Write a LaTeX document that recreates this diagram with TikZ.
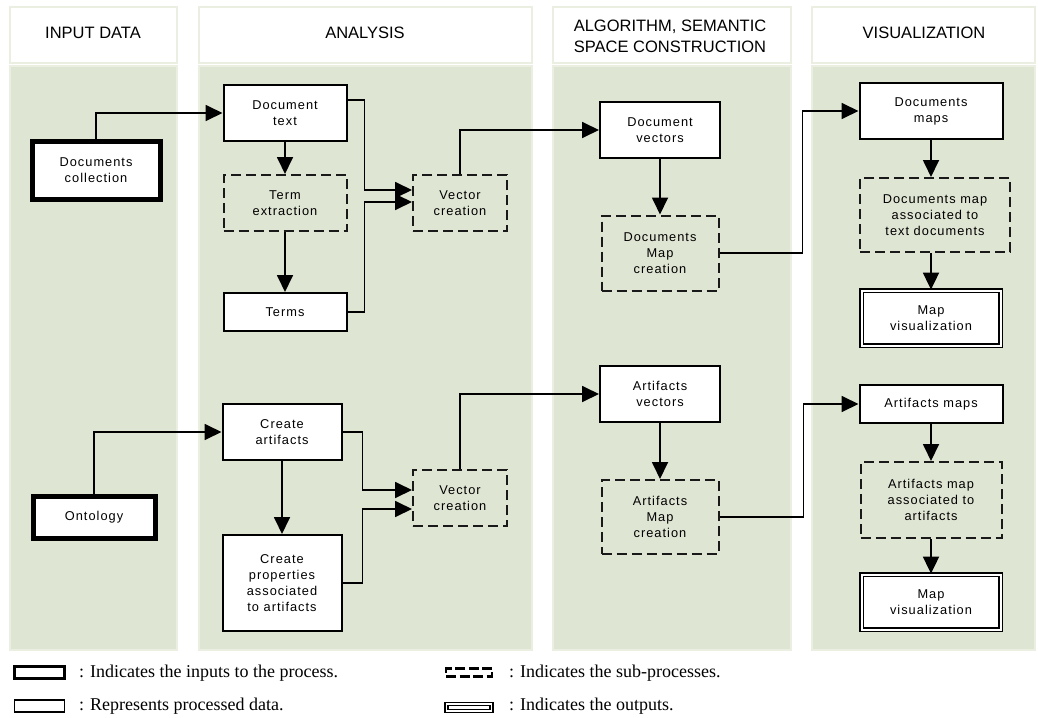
\documentclass[tikz,border=0pt]{standalone}
\usepackage{fontspec}
\setmainfont{Liberation Serif}
\newfontfamily\boxfont[LetterSpace=8]{Liberation Sans}
\newfontfamily\headfont{Liberation Sans}
\usetikzlibrary{arrows.meta}
\definecolor{lanegreen}{RGB}{223,229,211}
\definecolor{laneedge}{RGB}{234,239,226}

\begin{document}
\begin{tikzpicture}
    [x=1pt,y=-1pt,
     lane/.style={fill=lanegreen,draw=laneedge,line width=1.5pt},
     headbox/.style={fill=white,draw=laneedge,line width=1.5pt},
     title/.style={font=\headfont\fontsize{16.5}{21}\selectfont,align=center},
     box/.style={fill=white,align=center,inner sep=2pt,minimum width=123pt,minimum height=56pt,
       font=\boxfont\fontsize{12.8}{16}\selectfont},
     data/.style={box,draw,line width=2pt},
     sub/.style={box,draw=black!90,line width=2pt,dash pattern=on 10pt off 5pt,fill=none},
     input/.style={box,draw,line width=5pt,minimum width=128pt,minimum height=58pt},
     output/.style={box,draw,double,double distance=2pt,line width=1.8pt,minimum width=139pt,minimum height=55pt},
     flow/.style={line width=1.8pt,-{Triangle[length=17pt,width=16pt]}},
     keybox/.style={draw,fill=white,inner sep=0pt,minimum width=50pt,minimum height=12pt},
     keytext/.style={anchor=west,inner sep=0pt,font=\fontsize{18}{20}\selectfont}]
    \useasboundingbox (0,0) rectangle (1038,717);
    % lanes
    \foreach \l/\r in {10/177,199/532,553/791,812/1035}
      {\draw[headbox] (\l,7) rectangle (\r,63);
       \draw[lane] (\l,66) rectangle (\r,650);}
    \node[title] (inputhead) at (93,33) {INPUT DATA};
    \node[title] (analysishead) at (365,33) {ANALYSIS};
    \node[title] (algohead) at (670,36) {ALGORITHM, SEMANTIC\\SPACE CONSTRUCTION};
    \node[title] (vishead) at (924,33) {VISUALIZATION};
    % documents
    \node[input] (doccoll) at (96,170) {Documents\\collection};
    \node[data] (doctext) at (285,113) {Document\\text};
    \node[sub] (termext) at (285,203) {Term\\extraction};
    \node[data,minimum height=38pt] (terms) at (285,312) {Terms};
    \node[sub,minimum width=94pt] (vecdoc) at (460,203) {Vector\\creation};
    \node[data,minimum width=120pt] (docvec) at (660,130) {Document\\vectors};
    \node[sub,minimum width=117pt,minimum height=75pt] (docmapc) at (660,253) {Documents\\Map\\creation};
    \node[data,minimum width=143pt] (docmaps) at (931,111) {Documents\\maps};
    \node[sub,minimum width=150pt,minimum height=74pt] (docassoc) at (935,215) {Documents map\\associated to\\text documents};
    \node[output] (docvis) at (931,318) {Map\\visualization};
    % artifacts
    \node[input,minimum width=122pt,minimum height=42pt] (onto) at (94,517) {Ontology};
    \node[data,minimum width=119pt] (createart) at (282,432) {Create\\artifacts};
    \node[data,minimum width=119pt,minimum height=96pt] (createprop) at (282,583) {Create\\properties\\associated\\to artifacts};
    \node[sub,minimum width=94pt] (vecart) at (460,498) {Vector\\creation};
    \node[data,minimum width=120pt] (artvec) at (660,394) {Artifacts\\vectors};
    \node[sub,minimum width=117pt,minimum height=74pt] (artmapc) at (660,517) {Artifacts\\Map\\creation};
    \node[data,minimum width=143pt,minimum height=38pt] (artmaps) at (931,404) {Artifacts maps};
    \node[sub,minimum width=141pt,minimum height=76pt] (artassoc) at (931,500) {Artifacts map\\associated to\\artifacts};
    \node[output] (artvis) at (931,602) {Map\\visualization};
    % connectors
    \draw[flow] (doccoll.north) |- (doctext.west);
    \draw[flow] ([yshift=13pt]doctext.east) -- ++(17,0) |- ([yshift=13pt]vecdoc.west);
    \draw[flow] (terms.east) -- ++(17,0) |- ([yshift=1pt]vecdoc.west);
    \draw[flow] (doctext) -- (termext);
    \draw[flow] (termext) -- (terms);
    \draw[flow] (vecdoc.north) |- (docvec.west);
    \draw[flow] (docvec) -- (docmapc);
    \draw[flow] (docmapc.east) -- ++(83,0) |- (docmaps.west);
    \draw[flow] (docmaps.south) -- (docmaps.south |- docassoc.north);
    \draw[flow] (docvis.north |- docassoc.south) -- (docvis.north);
    \draw[flow] (onto.north) |- (createart.west);
    \draw[flow] (createart.east) -- ++(20,0) |- ([yshift=8pt]vecart.west);
    \draw[flow] (createprop.east) -- ++(20,0) |- ([yshift=-11pt]vecart.west);
    \draw[flow] (createart) -- (createprop);
    \draw[flow] (vecart.north) |- (artvec.west);
    \draw[flow] (artvec) -- (artmapc);
    \draw[flow] (artmapc.east) -- ++(84,0) |- (artmaps.west);
    \draw[flow] (artmaps) -- (artassoc);
    \draw[flow] (artassoc) -- (artvis);
    % legend
    \node[keybox,line width=3.5pt] (keyinput) at (39.5,672.5) {};
    \node[keytext] (keyinputtext) at (79,673) {: Indicates the inputs to the process.};
    \node[keybox,line width=1.5pt] (keydata) at (39.5,706) {};
    \node[keytext] (keydatatext) at (79,706) {: Represents processed data.};
    \node[keybox,line width=2.5pt,minimum width=46pt,minimum height=8pt,dash pattern=on 10pt off 3.5pt] (keysub) at (469,672.5) {};
    \node[keytext] (keysubtext) at (509,673) {: Indicates the sub-processes.};
    \node[keybox,double,double distance=1.5pt,line width=1.5pt,minimum width=45pt,minimum height=7pt] (keyout) at (469,707.5) {};
    \node[keytext] (keyouttext) at (509,706) {: Indicates the outputs.};
  \end{tikzpicture}
\end{document}
